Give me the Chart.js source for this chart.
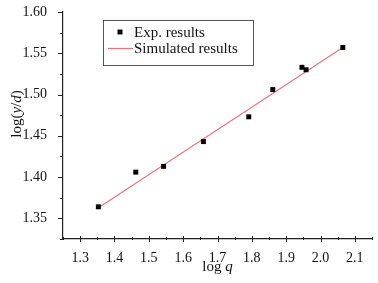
<!DOCTYPE html>
<html><head><meta charset="utf-8">
<script src="https://cdn.jsdelivr.net/npm/chart.js@4"></script>
<style>html,body{margin:0;padding:0;background:#fff}#wrap{width:378px;height:283px}</style>
</head><body><div id="wrap"><canvas id="c" width="378" height="283"></canvas></div>
<script>
const expLogQ = [1.353, 1.462, 1.543, 1.659, 1.791, 1.861, 1.946, 1.958, 2.065];
const expLogYD = [1.364, 1.406, 1.413, 1.443, 1.473, 1.506, 1.533, 1.530, 1.557];
const simLogQ = [1.353, 2.065];
const simLogYD = [1.363, 1.557];
const seriesNames = ['Exp. results', 'Simulated results'];
const xTitle = ['log ', 'q'];
const yTitle = ['log(', 'y', '/', 'd', ')'];

const FONT = '"Liberation Serif", "Times New Roman", serif';

const tickPlugin = {
  id: 'customTicks',
  afterDraw(chart) {
    const ctx = chart.ctx;
    const xs = chart.scales.x, ys = chart.scales.y;
    const ca = chart.chartArea;
    ctx.save();
    ctx.strokeStyle = '#222';
    ctx.lineWidth = 1;
    xs.ticks.forEach(t => {
      const major = Math.round(t.value * 100) % 10 === 0;
      const px = Math.round(xs.getPixelForValue(t.value)) + 0.5;
      ctx.beginPath();
      ctx.moveTo(px, ca.bottom - (major ? 3 : 2));
      ctx.lineTo(px, ca.bottom + (major ? 3 : 1));
      ctx.stroke();
    });
    ys.ticks.forEach(t => {
      const major = Math.round(t.value * 1000) % 50 === 0;
      const py = Math.round(ys.getPixelForValue(t.value)) + 0.5;
      ctx.beginPath();
      ctx.moveTo(ca.left - (major ? 5 : 3), py);
      ctx.lineTo(ca.left, py);
      ctx.stroke();
    });
    ctx.fillStyle = '#111';
    ctx.textBaseline = 'alphabetic';
    const drawRich = (parts, italicIdx) => {
      let w = 0;
      parts.forEach((p, i) => { ctx.font = (italicIdx.includes(i) ? 'italic ' : '') + '15px ' + FONT; w += ctx.measureText(p).width; });
      let x = -w / 2;
      parts.forEach((p, i) => { ctx.font = (italicIdx.includes(i) ? 'italic ' : '') + '15px ' + FONT; ctx.textAlign = 'left'; ctx.fillText(p, x, 0); x += ctx.measureText(p).width; });
    };
    ctx.save();
    ctx.translate((ca.left + ca.right) / 2, 271);
    drawRich(xTitle, [1]);
    ctx.restore();
    ctx.save();
    ctx.translate(21, 114);
    ctx.rotate(-Math.PI / 2);
    drawRich(yTitle, [1, 3]);
    ctx.restore();
    // legend
    ctx.strokeStyle = '#555';
    ctx.lineWidth = 1;
    ctx.strokeRect(103.5, 20.5, 150, 45);
    ctx.fillStyle = '#000';
    ctx.fillRect(117.5, 29.5, 5, 5);
    ctx.strokeStyle = '#f2737b';
    ctx.lineWidth = 1.2;
    ctx.beginPath(); ctx.moveTo(108, 48.5); ctx.lineTo(133, 48.5); ctx.stroke();
    ctx.fillStyle = '#111';
    ctx.font = '15px ' + FONT;
    ctx.textAlign = 'left';
    ctx.textBaseline = 'middle';
    ctx.fillText(seriesNames[0], 134, 33);
    ctx.fillText(seriesNames[1], 134, 49);
    ctx.restore();
  }
};

new Chart(document.getElementById('c'), {
  type: 'scatter',
  data: {
    datasets: [
      {
        label: seriesNames[1],
        type: 'line',
        data: simLogQ.map((x, i) => ({x, y: simLogYD[i]})),
        borderColor: '#f2737b',
        borderWidth: 1.2,
        pointRadius: 0,
        fill: false,
        order: 2
      },
      {
        label: seriesNames[0],
        data: expLogQ.map((x, i) => ({x, y: expLogYD[i]})),
        pointStyle: 'rect',
        pointRadius: 3.5,
        backgroundColor: '#000',
        borderColor: '#000',
        borderWidth: 0,
        order: 1
      }
    ]
  },
  options: {
    responsive: false,
    animation: false,
    devicePixelRatio: 1,
    layout: { padding: { left: 0, right: 6, top: 12, bottom: 0 } },
    plugins: { legend: { display: false }, tooltip: { enabled: false } },
    scales: {
      x: {
        type: 'linear',
        min: 1.25, max: 2.15,
        grid: { display: false },
        border: { display: true, color: '#222', width: 1.2 },
        ticks: {
          stepSize: 0.05,
          padding: 3,
          color: '#111',
          font: { family: FONT, size: 14 },
          autoSkip: false,
          maxRotation: 0,
          callback: v => (Math.round(v * 100) % 10 === 0 ? v.toFixed(1) : '')
        },
        afterFit: s => { s.height = 44; s.paddingLeft = 0; s.paddingRight = 0; }
      },
      y: {
        type: 'linear',
        min: 1.325, max: 1.6,
        grid: { display: false },
        border: { display: true, color: '#222', width: 1.2 },
        ticks: {
          stepSize: 0.025,
          padding: 8,
          color: '#111',
          font: { family: FONT, size: 14 },
          autoSkip: false,
          callback: v => (Math.round(v * 1000) % 50 === 0 ? v.toFixed(2) : '')
        },
        afterFit: s => { s.width = 63; s.paddingTop = 0; s.paddingBottom = 0; }
      }
    }
  },
  plugins: [tickPlugin]
});
</script>
</body></html>
